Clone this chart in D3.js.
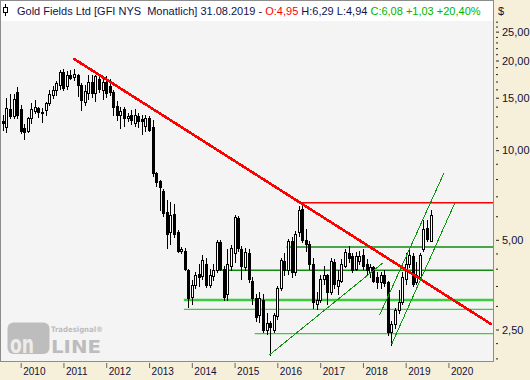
<!DOCTYPE html>
<html>
<head>
<meta charset="utf-8">
<script src="https://cdn.jsdelivr.net/npm/d3@7"></script>
<style>
body { margin: 0; background: #f6efd9; }
svg { display: block; font-family: "Liberation Sans", Arial, sans-serif; }
</style>
</head>
<body>
<svg id="chart" width="530" height="380"></svg>
<script>
// monthly candles, Aug 2009 .. Aug 2019
var firstMonth = new Date(2009, 7, 1);

var opens = [12.5, 12.0, 13.8, 13.0, 15.7, 13.8, 11.9, 11.6, 12.8, 13.5, 13.9, 13.45, 13.6, 14.4, 15.3, 15.9, 16.6,
    18.3, 16.4, 17.9, 17.6, 17.87, 16.5, 14.5, 15.6, 17.0, 15.5, 17.4, 15.9,
    17.0, 16.4, 15.7, 14.1, 13.1, 13.7, 12.8, 13.1, 12.3, 13.0, 12.75, 12.1,
    12.8, 12.0, 8.4, 7.85, 7.3, 6.2, 5.3, 6.1, 5.3, 4.58, 4.6, 3.95,
    3.22, 3.52, 3.85, 3.78, 4.15, 3.52, 3.78, 3.95, 4.9, 4.0, 3.3, 4.1,
    4.5, 5.9, 4.65, 4.05, 4.5, 3.65, 3.2, 2.8, 3.15, 2.5, 2.62, 2.5,
    2.77, 3.45, 4.25, 3.95, 4.95, 3.9, 5.3, 6.35, 5.0, 4.85, 4.15, 3.05,
    3.15, 3.7, 3.8, 3.35, 4.2, 3.5, 3.65, 4.1, 4.5, 4.4, 4.0, 4.25,
    4.45, 4.15, 3.9, 4.05, 3.75, 3.62, 3.8, 3.6, 2.45, 2.6, 2.9, 3.1,
    3.7, 4.15, 4.4, 3.6, 3.75, 4.65, 5.5, 4.95];

var highs = [13.1, 15.0, 15.4, 15.4, 16.3, 14.2, 12.2, 12.9, 14.4, 14.7, 14.0, 13.9, 14.5, 15.9, 16.4, 17.1, 18.6,
    18.7, 18.5, 18.6, 18.7, 18.05, 16.8, 16.5, 17.9, 17.9, 17.9, 18.0, 17.3,
    17.8, 17.3, 15.9, 14.6, 14.0, 14.0, 13.3, 13.6, 13.7, 13.3, 13.1, 13.1,
    13.0, 12.6, 8.45, 7.95, 7.4, 6.8, 6.7, 6.6, 5.4, 4.72, 4.7, 4.0,
    3.66, 3.9, 4.15, 4.44, 4.33, 4.0, 4.15, 4.99, 5.0, 4.1, 4.65, 4.8,
    6.05, 6.0, 4.75, 4.7, 4.65, 3.75, 3.3, 3.35, 3.3, 2.85, 2.68, 2.85,
    3.5, 4.35, 4.5, 5.05, 5.1, 5.35, 6.5, 6.66, 5.45, 4.95, 4.35, 3.35,
    3.8, 4.1, 3.85, 4.35, 4.3, 3.95, 4.3, 4.65, 4.75, 4.5, 4.55, 4.6,
    4.65, 4.3, 4.15, 4.1, 3.9, 3.9, 3.95, 3.65, 2.68, 2.95, 3.38, 3.9,
    4.5, 4.7, 4.5, 4.2, 4.5, 5.85, 5.85, 6.29];

var lows = [11.7, 11.5, 12.8, 12.8, 12.8, 11.4, 10.9, 11.5, 12.3, 13.3, 12.9, 12.4, 13.1, 14.2, 15.0, 15.3, 16.0,
    15.9, 16.1, 17.3, 17.2, 15.2, 13.6, 14.2, 14.9, 15.1, 14.6, 15.7, 14.9,
    15.1, 15.3, 13.1, 12.6, 11.9, 12.1, 12.5, 12.2, 12.1, 12.0, 11.3, 11.6,
    11.6, 8.2, 7.6, 6.3, 6.0, 4.7, 4.85, 5.1, 4.55, 4.5, 3.95, 2.97,
    3.05, 3.45, 3.5, 3.7, 3.48, 3.48, 3.66, 3.9, 3.95, 3.13, 3.13, 3.95,
    4.2, 4.6, 3.7, 3.95, 3.6, 3.05, 2.68, 2.65, 2.45, 2.42, 2.05, 2.45,
    2.72, 3.4, 3.8, 3.85, 3.75, 3.8, 5.15, 4.9, 4.6, 4.0, 2.95, 2.92,
    3.1, 3.55, 3.05, 3.3, 3.45, 3.3, 3.6, 4.05, 4.2, 3.9, 3.95, 4.15,
    4.0, 3.8, 3.75, 3.6, 3.45, 3.45, 3.5, 2.4, 2.22, 2.52, 2.85, 3.05,
    3.55, 4.05, 3.5, 3.55, 3.7, 4.6, 4.95, 4.94];

var closes = [12.3, 13.9, 13.0, 14.9, 13.1, 11.6, 11.5, 12.8, 13.7, 14.0, 13.4, 13.35, 14.35, 15.4, 15.9, 16.8, 18.3,
    16.2, 17.9, 17.5, 17.95, 16.5, 14.7, 15.8, 16.9, 15.55, 17.7, 16.0, 16.9,
    15.5, 15.7, 14.0, 13.1, 13.5, 12.8, 13.0, 12.6, 13.1, 12.5, 12.5, 12.8,
    11.7, 8.36, 7.8, 7.5, 6.15, 5.25, 6.05, 5.25, 4.6, 4.65, 4.0, 3.2,
    3.52, 3.8, 3.74, 4.27, 3.52, 3.8, 3.96, 4.93, 4.0, 3.22, 4.15, 4.7,
    5.95, 4.7, 4.1, 4.55, 3.7, 3.2, 2.75, 3.2, 2.5, 2.62, 2.55, 2.79,
    3.45, 4.27, 3.95, 4.95, 3.9, 5.25, 6.3, 5.0, 4.85, 4.15, 3.1, 3.15,
    3.7, 3.8, 3.35, 4.25, 3.55, 3.66, 4.15, 4.55, 4.35, 3.95, 4.4, 4.4,
    4.1, 3.95, 4.05, 3.65, 3.6, 3.8, 3.57, 2.45, 2.6, 2.9, 3.1, 3.75,
    4.15, 4.45, 3.55, 3.8, 4.45, 5.45, 5.05, 6.08];

var yearTicks = [2010, 2011, 2012, 2013, 2014, 2015, 2016, 2017, 2018, 2019, 2020];
var priceTicks = [2.5, 5, 10, 15, 20, 25];
var minorTicks = [2, 2.25, 3, 3.5, 4, 4.5, 6, 7, 8, 9, 11, 12, 13, 14, 16, 17, 18, 19, 21, 22, 23, 24, 26, 27];

// drawn lines: [date, price] anchors
var redTrend = [["2011-03-24", 20.35], ["2021-01-04", 2.6]];
var resistance = [["2016-07-26", 6.66]];
var darkLevels = [["2016-03-19", 4.73], ["2014-07-24", 3.95]];
var brightLevels = [["2013-10-25", 3.14], ["2013-10-25", 2.92], ["2015-06-22", 2.42]];
var supportTrend = [["2015-10-23", 2.05], ["2018-06-22", 4.19]];
var channelUpper = [["2018-05-24", 2.8], ["2019-11-25", 8.41]];
var channelLower = [["2018-09-03", 2.23], ["2020-02-25", 6.66]];

var title = "Gold Fields Ltd [GFI NYS  Monatlich] 31.08.2019 - ";
var quote = { open: "O:4,95", range: " H:6,29 L:4,94 ", close: "C:6,08 +1,03 +20,40%" };

var svg = d3.select("#chart");
var plotRight = 493, plotBottom = 361, titleH = 21;

var months = opens.map(function (d, i) { return d3.timeMonth.offset(firstMonth, i); });
var parse = d3.timeParse("%Y-%m-%d");

var x = d3.scaleTime()
    .domain([new Date(2010, 0, 1), new Date(2019, 0, 1)])
    .range([20.7, 405.7]);

var y = d3.scaleLog()
    .domain([2.5, 20])
    .range([329.5, 60.5]);

// frame
svg.append("rect").attr("x", 0.5).attr("y", 0.5)
    .attr("width", plotRight).attr("height", plotBottom)
    .attr("fill", "#f4f4f4").attr("stroke", "#8c8c8c");
svg.append("rect").attr("x", 1).attr("y", 1)
    .attr("width", plotRight - 1).attr("height", titleH - 1)
    .attr("fill", "#ffffff");

svg.append("clipPath").attr("id", "plotclip")
    .append("rect").attr("x", 1).attr("y", titleH)
    .attr("width", plotRight - 1).attr("height", plotBottom - titleH);

// watermark
var wm = svg.append("g").attr("class", "watermark");
wm.append("rect").attr("x", 7.5).attr("y", 322.5).attr("width", 42).attr("height", 31.5)
    .attr("rx", 6).attr("fill", "#bdbdbd");
wm.append("text").attr("x", 10).attr("y", 353).attr("font-family", "DejaVu Sans")
    .attr("font-weight", "bold").attr("font-size", 24).attr("fill", "#ececec")
    .attr("textLength", 24).attr("lengthAdjust", "spacingAndGlyphs").text("on");
wm.append("text").attr("x", 51).attr("y", 353).attr("font-family", "DejaVu Sans")
    .attr("font-weight", "bold").attr("font-size", 18).attr("fill", "#bcbcbc")
    .attr("textLength", 50).attr("lengthAdjust", "spacingAndGlyphs").text("LINE");
wm.append("text").attr("x", 51).attr("y", 332).attr("font-family", "DejaVu Sans")
    .attr("font-weight", "bold").attr("font-size", 7.5).attr("fill", "#bcbcbc")
    .attr("textLength", 52).attr("lengthAdjust", "spacingAndGlyphs").text("Tradesignal\u00AE");

var plot = svg.append("g").attr("clip-path", "url(#plotclip)");

// horizontal levels run to the right edge
var xEnd = x.invert(plotRight + 2);
function hLine(level, color, width) {
    plot.append("line")
        .attr("x1", x(parse(level[0]))).attr("x2", x(xEnd))
        .attr("y1", y(level[1])).attr("y2", y(level[1]))
        .attr("stroke", color).attr("stroke-width", width);
}
function segment(pts, color, width) {
    plot.append("line")
        .attr("x1", x(parse(pts[0][0]))).attr("y1", y(pts[0][1]))
        .attr("x2", x(parse(pts[1][0]))).attr("y2", y(pts[1][1]))
        .attr("stroke", color).attr("stroke-width", width)
        .attr("shape-rendering", "crispEdges");
}

hLine(darkLevels[0], "#128a12", 1.5);
hLine(darkLevels[1], "#128a12", 1.5);
hLine(brightLevels[0], "#3ccc3c", 2.5);
hLine(brightLevels[1], "#3ccc3c", 1.2);
hLine(brightLevels[2], "#3ccc3c", 1.2);

// candles
var candles = plot.append("g").attr("shape-rendering", "crispEdges");
var idx = d3.range(opens.length);
function cx(i) { return Math.round(x(months[i])); }

candles.selectAll("line.wick").data(idx).join("line")
    .attr("class", "wick")
    .attr("x1", function (i) { return cx(i) + 0.5; })
    .attr("x2", function (i) { return cx(i) + 0.5; })
    .attr("y1", function (i) { return Math.round(y(highs[i])); })
    .attr("y2", function (i) { return Math.round(y(lows[i])) + 1; })
    .attr("stroke", "#000");

candles.selectAll("rect.down").data(idx.filter(function (i) { return closes[i] < opens[i]; })).join("rect")
    .attr("class", "down")
    .attr("x", function (i) { return cx(i) - 1; })
    .attr("width", 3)
    .attr("y", function (i) { return Math.round(y(opens[i])); })
    .attr("height", function (i) { return Math.max(1, Math.round(y(closes[i])) - Math.round(y(opens[i])) + 1); })
    .attr("fill", "#000");

candles.selectAll("rect.up").data(idx.filter(function (i) { return closes[i] >= opens[i]; })).join("rect")
    .attr("class", "up")
    .attr("x", function (i) { return cx(i) - 0.5; })
    .attr("width", 2)
    .attr("y", function (i) { return Math.round(y(closes[i])) + 0.5; })
    .attr("height", function (i) { return Math.max(1, Math.round(y(opens[i])) - Math.round(y(closes[i]))); })
    .attr("fill", "#fff").attr("stroke", "#000");

// trend lines on top
hLine(resistance[0], "#ff0000", 1.3);
segment(redTrend, "#ff0000", 2.6);
segment(supportTrend, "#0a960a", 1);
segment(channelUpper, "#0a960a", 1);
segment(channelLower, "#0a960a", 1);

// title bar
var t = svg.append("text").attr("x", 17).attr("y", 15)
    .attr("font-size", 11).style("white-space", "pre");
t.append("tspan").attr("fill", "#12124a").text(title);
t.append("tspan").attr("fill", "#ff0000").text(quote.open);
t.append("tspan").attr("fill", "#12124a").text(quote.range);
t.append("tspan").attr("fill", "#00b400").text(quote.close);

var icon = svg.append("g").attr("stroke", "#000").attr("fill", "#fff").attr("shape-rendering", "crispEdges");
icon.append("line").attr("x1", 5.5).attr("x2", 5.5).attr("y1", 4).attr("y2", 16);
icon.append("rect").attr("x", 3.5).attr("y", 7.5).attr("width", 4).attr("height", 5);

// price axis
var axisX = 496;
var yAxis = svg.append("g").attr("transform", "translate(" + axisX + ",0)")
    .call(d3.axisRight(y).tickValues(priceTicks).tickSize(3).tickPadding(3)
        .tickFormat(function (d) { return d3.format(".2f")(d).replace(".", ","); }));
yAxis.select(".domain").remove();
yAxis.selectAll("text").attr("font-size", 11).attr("font-family", null).attr("fill", "#10103a");
yAxis.selectAll("line").attr("stroke", "#222");

var yMinor = svg.append("g").attr("transform", "translate(" + axisX + ",0)")
    .call(d3.axisRight(y).tickValues(minorTicks).tickSize(2).tickFormat(""));
yMinor.select(".domain").remove();
yMinor.selectAll("line").attr("stroke", "#222");

svg.append("text").attr("x", 498).attr("y", 15).attr("font-size", 11)
    .attr("fill", "#10103a").text("$");

// time axis
var xAxis = svg.append("g").attr("transform", "translate(0," + (plotBottom + 2) + ")")
    .call(d3.axisBottom(x)
        .tickValues(yearTicks.map(function (yr) { return new Date(yr, 0, 1); }))
        .tickSize(5)
        .tickFormat(d3.timeFormat("%Y")));
xAxis.select(".domain").remove();
xAxis.selectAll("line").attr("stroke", "#666");
xAxis.selectAll("text").attr("font-size", 10).attr("font-family", null)
    .attr("fill", "#10103a").attr("text-anchor", "start")
    .attr("x", 2).attr("y", 5).attr("dy", "0.71em");
</script>
</body>
</html>
